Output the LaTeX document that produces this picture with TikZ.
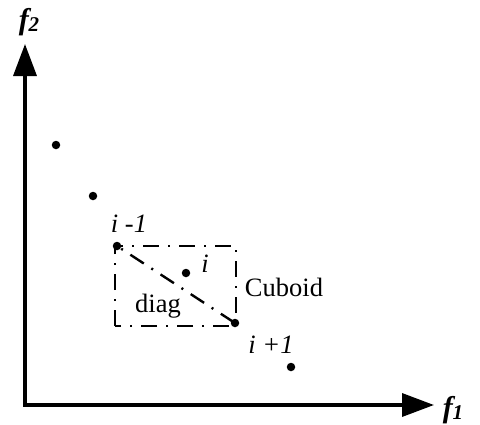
\documentclass[tikz,border=0pt]{standalone}
\usepackage{fontspec}
\setmainfont{Liberation Serif}
\usetikzlibrary{arrows.meta}
\tikzset{
  axis/.style={line width=3.5pt,-{Triangle[length=32pt,width=23pt]}},
  pt/.style={circle,fill=black,inner sep=0pt,minimum size=8.5pt},
  dd/.style={line width=2.4pt,dash pattern=on 16pt off 9pt on 2pt off 9pt},
  lbl/.style={font=\fontsize{26.5}{30}\selectfont,inner sep=0pt},
  ilbl/.style={font=\fontsize{26.5}{30}\selectfont\itshape,inner sep=0pt},
  ax/.style={font=\fontsize{30}{34}\selectfont\bfseries\itshape,inner sep=0pt}
}
\begin{document}
\begin{tikzpicture}[x=1pt,y=-1pt]
\useasboundingbox (0,0) rectangle (480,424);
\coordinate (o) at (25,405);
\coordinate (ytip) at (25,44);
\coordinate (xtip) at (434,405);
\draw[axis] ([yshift=-1.75pt]o) -- (ytip);
\draw[axis] ([xshift=-1.75pt]o) -- (xtip);
\node[ax] (f2) at (29,22) {f\raisebox{-0.15ex}{\fontsize{21}{24}\selectfont 2}};
\node[ax] (f1) at (453,410) {f\raisebox{-0.15ex}{\fontsize{21}{24}\selectfont 1}};
\node[pt] (p1) at (56,145) {};
\node[pt] (p2) at (93,196) {};
\node[pt] (p3) at (117,246) {};
\node[pt] (p4) at (186,273) {};
\node[pt] (p5) at (235,323) {};
\node[pt] (p6) at (291,367) {};
\coordinate (bl) at (115,326);
\coordinate (tr) at (236,246);
\draw[dd] (bl) rectangle (tr);
\draw[dd,dash phase=20pt] (p3.center) -- (p5.center);
\node[ilbl] (lim1) at (129,224) {i -1};
\node[ilbl] (li) at (205,264) {i};
\node[ilbl] (lip1) at (271,345) {i +1};
\node[lbl] (cub) at (284,287) {Cuboid};
\node[lbl] (diag) at (158,306) {diag};
\end{tikzpicture}
\end{document}
